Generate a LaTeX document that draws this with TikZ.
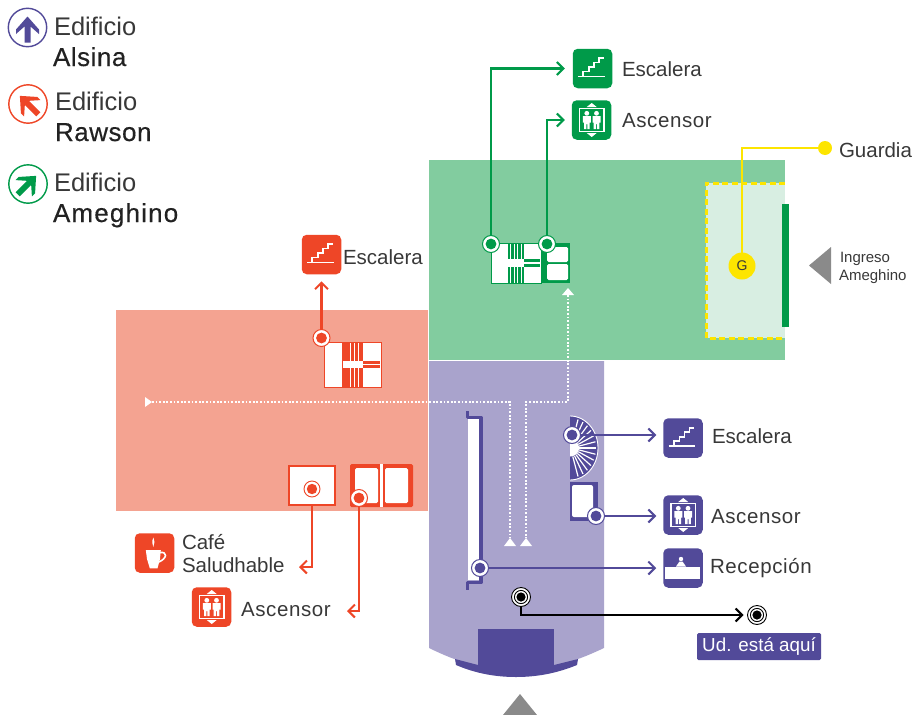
\documentclass[tikz,border=0pt]{standalone}
\usepackage{fontspec}
\setmainfont{Liberation Sans}
\newfontfamily\medf[LetterSpace=2,FakeBold=0.4]{Liberation Sans}
\newfontfamily\medw[LetterSpace=4.5,FakeBold=0.4]{Liberation Sans}
\newfontfamily\wider[LetterSpace=3]{Liberation Sans}
\usetikzlibrary{arrows.meta,calc}
\definecolor{cpur}{HTML}{524A99}
\definecolor{cpurl}{HTML}{A9A3CC}
\definecolor{cred}{HTML}{EE4627}
\definecolor{credl}{HTML}{F4A391}
\definecolor{cgrn}{HTML}{009A49}
\definecolor{cgrnl}{HTML}{82CC9F}
\definecolor{cgrnp}{HTML}{D8EEE2}
\definecolor{cyel}{HTML}{FDE500}
\definecolor{cgry}{HTML}{8A8A8A}
\definecolor{ctxt}{HTML}{383838}
\definecolor{cbold}{HTML}{222222}
\tikzset{
  iconbox/.style={fill=#1,rounded corners=5pt,minimum width=39.5pt,minimum height=39.5pt,inner sep=0pt,outer sep=0pt},
  lbl/.style={anchor=base west,inner sep=0pt,outer sep=0pt,text=ctxt,font=\fontsize{20.5}{20.5}\selectfont},
  lblw/.style={anchor=base west,inner sep=0pt,outer sep=0pt,text=ctxt,font=\fontsize{20.5}{20.5}\selectfont\wider},
  lblbig/.style={anchor=base west,inner sep=0pt,outer sep=0pt,text=ctxt,font=\fontsize{25.5}{25.5}\selectfont},
  lblbold/.style={anchor=base west,inner sep=0pt,outer sep=0pt,text=cbold,font=\fontsize{26}{26}\selectfont\medf},
  lblboldw/.style={anchor=base west,inner sep=0pt,outer sep=0pt,text=cbold,font=\fontsize{26}{26}\selectfont\medw},
  lblsmall/.style={anchor=base west,inner sep=0pt,outer sep=0pt,text=ctxt,font=\fontsize{15}{15}\selectfont},
  conn/.style={draw=#1,line width=2.2pt,-{Straight Barb[length=6.5pt,width=13pt,line width=2pt]}},
  markout/.style={circle,draw=#1,line width=1pt,fill=white,minimum size=17pt,inner sep=0pt,outer sep=0pt},
  walk/.style={draw=white,line width=1.5pt,dash pattern=on 1.8pt off 1.8pt},
  stairs/.pic={
    \draw[white,line width=1.6pt] (-14.3,8) -- (12.3,8);
    \draw[white,line width=1.6pt] (-9.3,7.5) -- (-9.3,3) -- (-3.7,3) -- (-3.7,-1.3) -- (1.3,-1.3) -- (1.3,-6) -- (6.3,-6) -- (6.3,-10.3) -- (11.3,-10.3);
  },
  person/.pic={
    \fill[white] (0,-6.7) circle (2.4pt);
    \fill[white] (-4,-4) -- (4,-4) -- (4,2.5) -- (2.8,2.5) -- (2.8,9) -- (0.5,9) -- (0.5,4) -- (-0.5,4) -- (-0.5,9) -- (-2.8,9) -- (-2.8,2.5) -- (-4,2.5) -- cycle;
  },
  lift/.pic={
    \draw[white,line width=1.2pt] (-12,-11.7) rectangle (12.5,11.7);
    \fill[white] (0.2,-17) -- (5.2,-13) -- (-4.8,-13) -- cycle;
    \fill[white] (0.2,17) -- (5.2,13) -- (-4.8,13) -- cycle;
    \pic at (-4.7,0) {person};
    \pic at (5,0) {person};
  },
  desk/.pic={
    \fill[white] (-18.3,-0.7) rectangle (16.7,10.7);
    \fill[white] (-2,-9) circle (2.2pt);
    \fill[white] (-7,-1.5) -- (-3.5,-6.5) -- (-0.5,-6.5) -- (3,-1.5) -- cycle;
  },
  cup/.pic={
    \fill[white] (-8.7,-3) -- (6.3,-3) -- (5.5,6) -- (3,15.3) -- (-4.7,15.3) -- (-7.5,6) -- cycle;
    \draw[white,line width=1.6pt] (5.5,-0.5) .. controls (13,-1.5) and (13,5) .. (4.5,9);
    \fill[white] (-1.2,-15.5) .. controls (-3,-11) and (-2,-9) .. (-1.2,-6) .. controls (-0.2,-9) and (0.6,-11) .. (-1.2,-15.5) -- cycle;
  },
  legarrow/.pic={
    \fill[#1] (0,-11.5) -- (11.5,1.5) -- (11.5,6) -- (3,-1.5) -- (3,14.5) -- (-3,14.5) -- (-3,-1.5) -- (-11.5,6) -- (-11.5,1.5) -- cycle;
  }
}
\newcommand{\markat}[4]{%
  \node[markout=#4] (#1) at (#2,#3) {};
  \fill[#4] (#1) circle (5.4pt);
}
\newcommand{\bullseye}[3]{%
  \node[circle,draw=black,line width=0.9pt,fill=white,minimum size=19pt,inner sep=0pt,outer sep=0pt] (#1) at (#2,#3) {};
  \draw[black,line width=0.9pt] (#1) circle (6.6pt);
  \fill[black] (#1) circle (4.6pt);
}
\begin{document}
\begin{tikzpicture}[x=1pt,y=-1pt]
\useasboundingbox (0,0) rectangle (916,715);
% regions
\fill[cgrnl] (429,160) rectangle (785,360);
\fill[credl] (116,310) rectangle (428,511);
\fill[cpurl] (429,361) -- (604,361) -- (604,648) .. controls (570,664) and (555,667) .. (516,670) .. controls (477,667) and (462,664) .. (429,648) -- cycle;
\fill[cpur] (478,629) rectangle (554,666);
\fill[cpur] (455,659) -- (478,665) -- (554,665) -- (578,659) -- (577,665) .. controls (555,674) and (535,677) .. (516,677) .. controls (497,677) and (477,674) .. (456,665) -- cycle;
\fill[cgry] (520,694) -- (537,715) -- (503,715) -- cycle;
% guard zone
\fill[cgrnp] (706,183) rectangle (785,338);
\draw[cyel,line width=3pt,dash pattern=on 6pt off 3.5pt] (785,183) -- (706,183) -- (706,338) -- (785,338);
\fill[cgrn] (782,204) rectangle (789,327);
% walking routes
\draw[walk] (152,402) -- (510,402) -- (510,538);
\draw[walk] (568,295) -- (568,402) -- (526,402) -- (526,538);
\fill[white] (152,402) -- (145,397) -- (145,407) -- cycle;
\fill[white] (568,288) -- (574,295) -- (562,295) -- cycle;
\fill[white] (510,538) -- (516,546) -- (504,546) -- cycle;
\fill[white] (526,538) -- (532,546) -- (520,546) -- cycle;
% legend
\draw[cpur,line width=1.4pt] (27.5,27.5) circle (19.2pt);
\draw[cred,line width=1.4pt] (28,104) circle (19.2pt);
\draw[cgrn,line width=1.4pt] (28,184) circle (19.2pt);
\pic at (27.5,28) {legarrow=cpur};
\pic[rotate=45] at (28,104) {legarrow=cred};
\pic[rotate=-45] at (28,184) {legarrow=cgrn};
\node[lblbig] (tEdA) at (54,35) {Edificio};
\node[lblbold] (tAls) at (53,66) {Alsina};
\node[lblbig] (tEdR) at (55,110) {Edificio};
\node[lblbold] (tRaw) at (55,141) {Rawson};
\node[lblbig] (tEdM) at (54,191) {Edificio};
\node[lblboldw] (tAme) at (53,222) {Ameghino};
% green stairs + lift
\fill[white] (491,243) rectangle (541,283);
\draw[cgrn,line width=0.9pt] (491,243) rectangle (541,283);
\foreach \k in {507.5,511,514.5,518,521.5} \fill[cgrn] (\k,243.5) rectangle (\k+2.6,282.5);
\fill[white] (508,259) rectangle (524,267);
\fill[cgrn] (524,259) rectangle (540,267);
\fill[white] (524,262.3) rectangle (540,263.7);
\fill[cgrn] (541,243) rectangle (570,283);
\fill[white,rounded corners=1.5pt] (547,247) rectangle (568,262);
\fill[white,rounded corners=1.5pt] (547,264) rectangle (568,280);
% red stairs
\fill[white] (324,342) rectangle (381,387);
\draw[cred,line width=0.8pt] (324,342) rectangle (381,387);
\foreach \k in {342,346.3,350.6,354.9,359.2} \fill[cred] (\k,342.5) rectangle (\k+3.5,386.5);
\fill[white] (343,361) rectangle (363,368);
\fill[cred] (363,361) rectangle (380,368);
\fill[white] (363,364) rectangle (380,365.2);
% cafe
\node[draw=cred,fill=white,line width=2.4pt,minimum width=46pt,minimum height=39pt,inner sep=0pt,outer sep=1pt] (cafe) at (312,485.5) {};
% red lift
\fill[cred,rounded corners=1.5pt] (350,464) rectangle (413,507);
\fill[white,rounded corners=1.5pt] (355,468) rectangle (378,503);
\fill[white,rounded corners=1.5pt] (385,468) rectangle (408,503);
\fill[white] (380,464) rectangle (383,507);
% purple fan
\fill[cpur] plot[domain=-90:90,samples=41] ({570+28*cos(\x)},{448+32*sin(\x)}) -- cycle;
\draw[white,line width=0.9pt] plot[domain=-90:90,samples=41] ({570+28*cos(\x)},{448+32*sin(\x)});
\foreach \a in {-72,-60,...,72} \draw[white,line width=1.2pt] ({570+9*cos(\a)},{448+9*sin(\a)}) -- ({570+26*cos(\a)},{448+30*sin(\a)});
\fill[white] plot[domain=-90:90,samples=25] ({570+9*cos(\x)},{448+8.5*sin(\x)}) -- cycle;
% purple lift
\fill[cpur] (570,482) rectangle (598,521);
\fill[white,rounded corners=2pt] (572,485) rectangle (593,517);
% reception wall
\fill[white] (468,419) rectangle (479,580);
\draw[cpur,line width=3.2pt,line join=round] (467.5,411) -- (467.5,417.5) -- (481,417.5) -- (481,582.5) -- (467.5,582.5) -- (467.5,589.5);
% icons
\node[iconbox=cgrn] (gEsc) at (592.5,68.5) {};
\pic at (gEsc) {stairs};
\node[iconbox=cgrn] (gAsc) at (591.5,120) {};
\pic at (gAsc) {lift};
\node[iconbox=cred] (rEsc) at (321.5,254.5) {};
\pic at (rEsc) {stairs};
\node[iconbox=cred] (rCaf) at (154.5,553) {};
\pic at (rCaf) {cup};
\node[iconbox=cred] (rAsc) at (211.5,607) {};
\pic at (rAsc) {lift};
\node[iconbox=cpur] (pEsc) at (683,438) {};
\pic at (pEsc) {stairs};
\node[iconbox=cpur] (pAsc) at (683,515) {};
\pic at (pAsc) {lift};
\node[iconbox=cpur] (pRec) at (683,568) {};
\pic at (pRec) {desk};
% labels
\node[lbl] (lgEsc) at (622,76) {Escalera};
\node[lblw] (lgAsc) at (622,127) {Ascensor};
\node[lbl] (lrEsc) at (343,264) {Escalera};
\node[lbl] (lrCaf) at (182,549) {Café};
\node[lbl] (lrSal) at (182,572) {Saludhable};
\node[lblw] (lrAsc) at (241,616) {Ascensor};
\node[lbl] (lpEsc) at (712,443) {Escalera};
\node[lblw] (lpAsc) at (711,523) {Ascensor};
\node[lblw] (lpRec) at (710,573) {Recepción};
\node[lbl] (lGua) at (839,157) {Guardia};
\node[lblsmall] (lIn1) at (840,262) {Ingreso};
\node[lblsmall] (lIn2) at (839,280) {Ameghino};
\fill[cgry] (809,265.5) -- (831,247) -- (831,284) -- cycle;
% ud esta aqui
\node[fill=cpur,rounded corners=1.5pt,minimum width=124pt,minimum height=27pt,inner sep=0pt,text=white,font=\fontsize{18.8}{18.8}\selectfont] (uda) at (759,646.5) {Ud. está aquí};
% markers
\markat{mg1}{491}{244}{cgrn}
\markat{mg2}{547}{244}{cgrn}
\markat{mr1}{321.5}{338}{cred}
\markat{mr3}{359}{498}{cred}
\markat{mp1}{572}{435}{cpur}
\markat{mp2}{596}{516}{cpur}
\markat{mp3}{480}{568}{cpur}
% cafe target
\node[circle,draw=cred,line width=0.9pt,fill=white,minimum size=16pt,inner sep=0pt,outer sep=0pt] (tcaf) at (312,489) {};
\fill[cred] (tcaf) circle (5.2pt);
\bullseye{here}{521}{597}
\bullseye{hereb}{757}{615}
% guard
\node[circle,fill=cyel,minimum size=27pt,inner sep=0pt,outer sep=0pt,text=ctxt,font=\fontsize{14}{14}\selectfont] (guard) at (742,266) {G};
\node[circle,fill=cyel,minimum size=14pt,inner sep=0pt,outer sep=0pt] (gdot) at (825,148) {};
\draw[cyel,line width=1.5pt] (guard) |- (gdot);
% connectors
\coordinate (cafTip) at (299,567);
\coordinate (ascTip) at (347,611);
\draw[conn=cgrn,shorten >=8pt] (mg1) |- (gEsc.west);
\draw[conn=cgrn,shorten >=7pt] (mg2) |- (gAsc.west);
\draw[conn=cred,shorten >=7pt] (mr1) -- (rEsc.south);
\draw[conn=cred] (cafe.south) |- (cafTip);
\draw[conn=cred] (mr3) |- (ascTip);
\draw[conn=cpur,shorten >=7pt] (mp1) -- (mp1 -| pEsc.west);
\draw[conn=cpur,shorten >=7pt] (mp2) -- (mp2 -| pAsc.west);
\draw[conn=cpur,shorten >=7pt] (mp3) -- (mp3 -| pRec.west);
\draw[conn=black,shorten >=4pt] (here) |- (hereb);
\end{tikzpicture}
\end{document}
